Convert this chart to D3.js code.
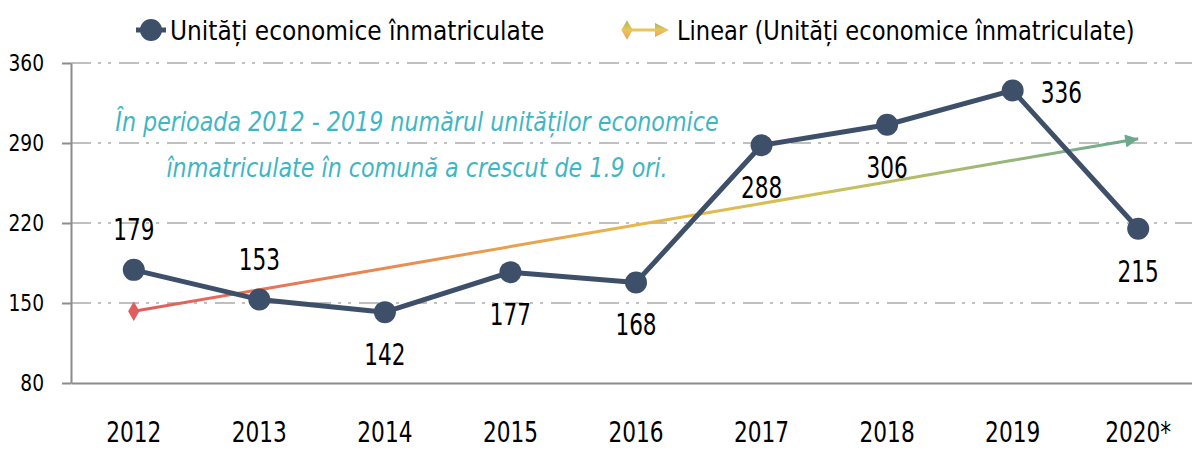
<!DOCTYPE html>
<html>
<head>
<meta charset="utf-8">
<script src="https://cdn.jsdelivr.net/npm/d3@7"></script>
<style>
  body { margin: 0; background: #fff; }
  svg text { font-family: "DejaVu Sans Condensed", "Liberation Sans Narrow", sans-serif; font-stretch: condensed; }
</style>
</head>
<body>
<svg id="chart" width="1192" height="450"></svg>
<script>
// date
const years  = ["2012", "2013", "2014", "2015", "2016", "2017", "2018", "2019", "2020*"];
const units  = [179, 153, 142, 177, 168, 288, 306, 336, 215];
const yTicks = [80, 150, 220, 290, 360];
// unde sta eticheta fiecarui punct: deasupra, dedesubt, la dreapta
const labelPos = ["up", "up", "down", "down", "down", "down", "down", "right", "down"];
const seriesName = "Unități economice înmatriculate";
const trendName  = "Linear (Unități economice înmatriculate)";
const note = ["În perioada 2012 - 2019 numărul unităților economice",
              "înmatriculate în comună a crescut de 1.9 ori."];

const svg = d3.select("#chart");
const mLeft = 71, mRight = 1201, mTop = 63, mBottom = 383;

// fontul din original e mai ingust, strangem textul pe orizontala
function narrow(sel, k) {
  sel.each(function() {
    const w = this.getComputedTextLength();
    d3.select(this).attr("textLength", w * k).attr("lengthAdjust", "spacingAndGlyphs");
  });
}

const x = d3.scaleBand().domain(years).range([mLeft, mRight]);
const y = d3.scaleLinear().domain([80, 360]).range([mBottom, mTop]);
const cx = d => x(d) + x.bandwidth() / 2;

// trend liniar (cele mai mici patrate) ca in Excel
const n = units.length;
const mx = (n + 1) / 2, my = d3.mean(units);
let sxy = 0, sxx = 0;
units.forEach((v, i) => { sxy += (i + 1 - mx) * (v - my); sxx += (i + 1 - mx) ** 2; });
const slope = sxy / sxx, icpt = my - slope * mx;
const trend = years.map((d, i) => icpt + slope * (i + 1));

const defs = svg.append("defs");
const grad = defs.append("linearGradient")
  .attr("id", "trendGrad")
  .attr("gradientUnits", "userSpaceOnUse")
  .attr("x1", cx(years[0])).attr("x2", cx(years[n - 1]))
  .attr("y1", 0).attr("y2", 0);
[[0, "#e05c5f"], [0.25, "#e98a52"], [0.5, "#e8b64c"], [0.68, "#cfc25a"], [0.85, "#9fb874"], [1, "#6aa98f"]]
  .forEach(s => grad.append("stop").attr("offset", s[0]).attr("stop-color", s[1]));

const lgrad = defs.append("linearGradient").attr("id", "legGrad")
  .attr("x1", 0).attr("x2", 0).attr("y1", 0).attr("y2", 1);
lgrad.append("stop").attr("offset", 0).attr("stop-color", "#a9b85c");
lgrad.append("stop").attr("offset", 0.5).attr("stop-color", "#e9c659");
lgrad.append("stop").attr("offset", 1).attr("stop-color", "#ee9c55");

defs.append("marker")
  .attr("id", "arrow")
  .attr("viewBox", "0 0 10 10")
  .attr("refX", 10).attr("refY", 5)
  .attr("markerUnits", "userSpaceOnUse")
  .attr("markerWidth", 17).attr("markerHeight", 13)
  .attr("orient", "auto")
  .append("path").attr("d", "M0,0 L10,5 L0,10 Z").attr("fill", "#6aa98f");

// grila
svg.append("g").selectAll("line")
  .data(yTicks.slice(1))
  .enter().append("line")
  .attr("x1", mLeft).attr("x2", 1192)
  .attr("y1", d => y(d)).attr("y2", d => y(d))
  .attr("stroke", "#bfbfbf").attr("stroke-width", 2)
  .attr("stroke-dasharray", "20,7,3,7,3,8");

// axe
const yAxis = svg.append("g")
  .attr("transform", `translate(${mLeft},0)`)
  .call(d3.axisLeft(y).tickValues(yTicks).tickSize(9).tickPadding(18).tickSizeOuter(0));
yAxis.select(".domain").attr("stroke", "#8c8c8c").attr("stroke-width", 2);
yAxis.selectAll(".tick line").attr("stroke", "#8c8c8c").attr("stroke-width", 2);
yAxis.selectAll(".tick text").attr("font-size", 23).attr("fill", "#000")
  .attr("font-family", null).call(narrow, 0.9);

const xAxis = svg.append("g")
  .attr("transform", `translate(0,${mBottom})`)
  .call(d3.axisBottom(x).tickSize(0).tickPadding(42).tickSizeOuter(0));
xAxis.select(".domain").attr("stroke", "#8c8c8c").attr("stroke-width", 2);
xAxis.selectAll(".tick text").attr("font-size", 29).attr("fill", "#000")
  .attr("font-family", null).attr("dy", null).attr("y", 59).call(narrow, 0.83);

// nota
svg.append("g").selectAll("text")
  .data(note)
  .enter().append("text")
  .attr("x", 417).attr("y", (d, i) => 131 + i * 46)
  .attr("text-anchor", "middle")
  .attr("font-size", 26).attr("font-style", "italic")
  .attr("fill", "#3fb6c4")
  .text(d => d)
  .call(narrow, 0.95);

// linia de trend
const trendLine = d3.line().x((d, i) => cx(years[i])).y(d => y(d));
svg.append("path")
  .datum(trend)
  .attr("d", trendLine)
  .attr("fill", "none")
  .attr("stroke", "url(#trendGrad)")
  .attr("stroke-width", 3)
  .attr("marker-end", "url(#arrow)");
svg.append("path")
  .attr("d", d3.symbol().type(d3.symbolDiamond).size(110)())
  .attr("transform", `translate(${cx(years[0])},${y(trend[0])})`)
  .attr("fill", "#e05c5f");

// seria
const line = d3.line().x((d, i) => cx(years[i])).y(d => y(d));
svg.append("path")
  .datum(units)
  .attr("d", line)
  .attr("fill", "none")
  .attr("stroke", "#3e5069")
  .attr("stroke-width", 5)
  .attr("stroke-linejoin", "round");
svg.append("g").selectAll("circle")
  .data(units)
  .enter().append("circle")
  .attr("cx", (d, i) => cx(years[i]))
  .attr("cy", d => y(d))
  .attr("r", 11)
  .attr("fill", "#3e5069");

// etichete
svg.append("g").selectAll("text")
  .data(units)
  .enter().append("text")
  .attr("x", (d, i) => cx(years[i]) + (labelPos[i] === "right" ? 28 : 0))
  .attr("y", (d, i) => y(d) + (labelPos[i] === "up" ? -30 : labelPos[i] === "right" ? 13 : 53))
  .attr("text-anchor", (d, i) => labelPos[i] === "right" ? "start" : "middle")
  .attr("font-size", 30)
  .attr("fill", "#000")
  .text(d => d)
  .call(narrow, 0.8);

// legenda
const leg = svg.append("g");
leg.append("line").attr("x1", 136).attr("x2", 166).attr("y1", 30).attr("y2", 30)
  .attr("stroke", "#3e5069").attr("stroke-width", 5);
leg.append("circle").attr("cx", 151).attr("cy", 30).attr("r", 11).attr("fill", "#3e5069");
leg.append("text").attr("x", 170).attr("y", 40).attr("font-size", 27).text(seriesName)
  .call(narrow, 0.96);

leg.append("line").attr("x1", 624).attr("x2", 660).attr("y1", 30).attr("y2", 30)
  .attr("stroke", "#e9c659").attr("stroke-width", 3);
leg.append("path")
  .attr("d", d3.symbol().type(d3.symbolDiamond).size(110)())
  .attr("transform", "translate(627,30)")
  .attr("fill", "url(#legGrad)");
leg.append("path").attr("d", "M655,23 L669,30 L655,37 Z").attr("fill", "url(#legGrad)");
leg.append("text").attr("x", 677).attr("y", 40).attr("font-size", 27).text(trendName)
  .call(narrow, 0.93);
</script>
</body>
</html>
